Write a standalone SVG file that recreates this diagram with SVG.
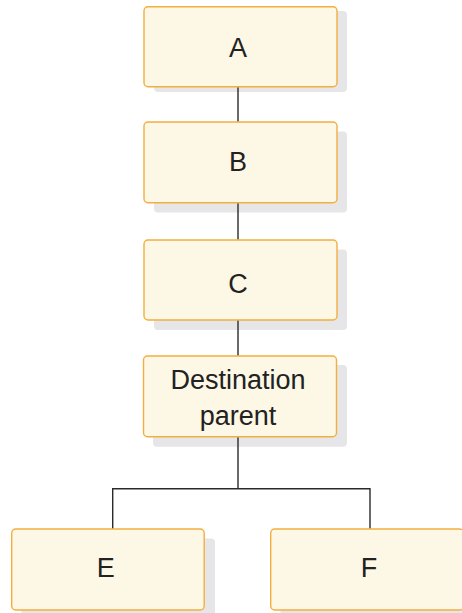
<svg xmlns="http://www.w3.org/2000/svg" width="462" height="613" viewBox="0 0 462 613">
<style>
.sh{fill:#e6e6e8;}
.box{fill:#fdf7e5;stroke:#f2ae3f;stroke-width:1.4;}
.t{font-family:"Liberation Sans",Arial,sans-serif;font-size:27px;fill:#222;text-anchor:middle;}
.c{stroke:#2a2a2a;stroke-width:1.4;fill:none;}
</style>
<rect width="462" height="613" fill="#ffffff"/>
<g id="A">
<rect class="sh" x="154" y="11" width="193" height="81" rx="4"/>
<rect class="box" x="144" y="6.7" width="193" height="80" rx="4"/>
<text class="t" x="238" y="57.3">A</text>
</g>
<g id="B">
<rect class="sh" x="154" y="131.5" width="193" height="81" rx="4"/>
<rect class="box" x="144" y="122" width="193" height="80.7" rx="4"/>
<text class="t" x="238" y="171">B</text>
</g>
<g id="C">
<rect class="sh" x="154" y="249.5" width="193" height="80.5" rx="4"/>
<rect class="box" x="144" y="240" width="193" height="80" rx="4"/>
<text class="t" x="238" y="292.5">C</text>
</g>
<g id="D">
<rect class="sh" x="153" y="365" width="194" height="81.7" rx="4"/>
<rect class="box" x="143.5" y="356" width="193" height="80.7" rx="4"/>
<text class="t" x="238" y="389.3">Destination</text>
<text class="t" x="238" y="425">parent</text>
</g>
<g id="E">
<rect class="sh" x="21.5" y="538.5" width="193.5" height="80" rx="4"/>
<rect class="box" x="11.7" y="529" width="192.5" height="81" rx="4"/>
<text class="t" x="105.7" y="577.3">E</text>
</g>
<g id="F">
<rect class="sh" x="280.5" y="538.5" width="193.5" height="80" rx="4"/>
<rect class="box" x="270.7" y="529" width="193" height="81" rx="4"/>
<text class="t" x="369" y="577.3">F</text>
</g>
<g id="connectors">
<line class="c" x1="238" y1="87.4" x2="238" y2="121.3"/>
<line class="c" x1="238" y1="203.4" x2="238" y2="239.3"/>
<line class="c" x1="238" y1="320.7" x2="238" y2="355.3"/>
<polyline class="c" points="238,437.4 238,488.7"/>
<polyline class="c" points="112.7,528.3 112.7,488.7 370,488.7 370,528.3"/>
</g>
</svg>
